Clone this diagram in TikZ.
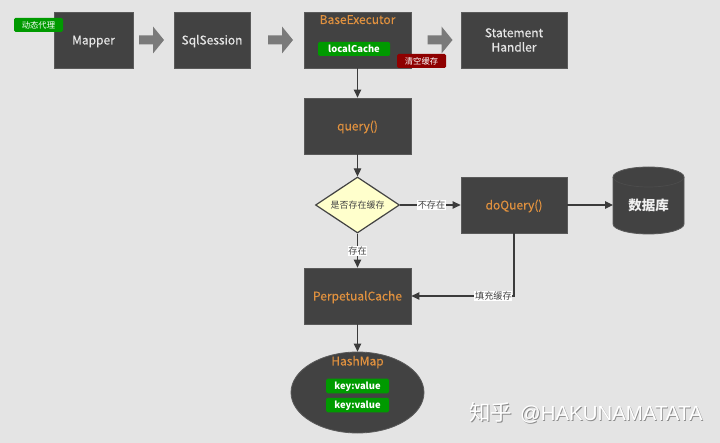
\documentclass[tikz,border=0pt]{standalone}
\usepackage{fontspec}
\setmainfont{Noto Sans CJK SC}
\newfontfamily\medf{Noto Sans CJK SC}[FakeBold=0.35]
\newfontfamily\wmlatin{Liberation Sans}
\usetikzlibrary{shapes.geometric,arrows.meta,calc}
\definecolor{bg}{HTML}{E4E4E4}
\definecolor{dark}{HTML}{424242}
\definecolor{edge}{HTML}{5A5A5A}
\definecolor{orangetxt}{HTML}{E0913F}
\definecolor{greentag}{HTML}{009A00}
\definecolor{redtag}{HTML}{8F0000}
\definecolor{yel}{HTML}{FFFFCC}
\definecolor{lab}{HTML}{444444}
\definecolor{blockgray}{HTML}{7A7A7A}
\newcommand{\wmtext}{{\fontsize{21.5}{24}\selectfont 知乎}\hspace{8pt}{\wmlatin\fontsize{20.4}{24}\selectfont @HAKUNAMATATA}}
\tikzset{
 x=1pt,y=-1pt,
 boxn/.style={draw=edge,line width=.8pt,fill=dark,inner sep=0pt,align=center,text height=9pt,text depth=0pt,font=\medf\fontsize{12}{15}\selectfont,text=white!90!black},
 plainbox/.style={draw=edge,line width=.8pt,fill=dark,inner sep=0pt},
 orng/.style={text=orangetxt},
 tag/.style={fill=greentag,rounded corners=1.5pt,inner sep=0pt,text=white,text height=7pt,text depth=0pt,font=\fontsize{9.4}{11}\selectfont\bfseries},
 smalltag/.style={tag,font=\fontsize{8.3}{9}\selectfont},
 conn/.style={draw=dark!90!black,line width=1.1pt,-{Triangle[length=8pt,width=7.5pt]}},
 lbl/.style={fill=white,inner sep=.6pt,text=lab,font=\fontsize{9.2}{11}\selectfont},
 headline/.style={inner sep=0pt,text height=9pt,text depth=0pt,font=\medf\fontsize{12}{15}\selectfont},
}
\newcommand{\blockarrow}[1]{\fill[blockgray] (#1-12.5,35.5) -- (#1+1.5,35.5) -- (#1+1.5,26.5) -- (#1+12.5,40) -- (#1+1.5,53.5) -- (#1+1.5,44.5) -- (#1-12.5,44.5) -- cycle;}
\begin{document}
\begin{tikzpicture}
\useasboundingbox[fill=bg] (0,0) rectangle (720,443);
\node[boxn,minimum width=79pt,minimum height=56pt] (mapper) at (93.5,40) {Mapper};
\node[boxn,minimum width=76pt,minimum height=56pt] (sql) at (212,40) {SqlSession};
\node[plainbox,minimum width=107pt,minimum height=56pt] (base) at (357.5,40) {};
\node[headline,orng] (basetxt) at (357.5,19.5) {BaseExecutor};
\node[plainbox,minimum width=106pt,minimum height=56pt] (stmt) at (514,40) {};
\node[inner sep=0pt,align=center,font=\medf\fontsize{12}{14.4}\selectfont,text=white!90!black] (stmttxt) at (514,40) {Statement\\Handler};
\node[boxn,orng,minimum width=107pt,minimum height=56pt] (query) at (357.5,126) {query()};
\node[diamond,aspect=1.5,draw=dark,line width=1.2pt,fill=yel,minimum width=84pt,minimum height=56pt,inner sep=0pt,text=lab,font=\fontsize{9}{10}\selectfont] (dia) at (357.5,205) {是否存在缓存};
\node[boxn,orng,minimum width=106pt,minimum height=56pt] (doq) at (514,205) {doQuery()};
\node[boxn,orng,minimum width=107pt,minimum height=56pt] (perp) at (357.5,296) {PerpetualCache};
\node[ellipse,draw=edge,line width=.8pt,fill=dark,minimum width=133pt,minimum height=81pt,inner sep=0pt] (hash) at (357.5,392.5) {};
\node[headline,orng] (hashtxt) at (357.5,361) {HashMap};

% database cylinder
\path[fill=dark,draw=edge,line width=.8pt] (613,177) -- (613,224) arc[start angle=180,end angle=360,x radius=35.5pt,y radius=10pt] -- (684,177) arc[start angle=0,end angle=180,x radius=35.5pt,y radius=10pt] -- cycle;
\draw[black!70,line width=.7pt] (613,177) arc[start angle=180,end angle=360,x radius=35.5pt,y radius=10pt];
\node[inner sep=0pt,text=white!94!black,font=\fontsize{13.5}{16}\selectfont\bfseries] (db) at (648.5,205) {数据库};
\coordinate (dbw) at (613,205);

% tags
\node[smalltag,minimum width=49pt,minimum height=14pt] (dt) at (38.5,25) {动态代理};
\node[tag,minimum width=72pt,minimum height=14pt] (lc) at (354,49) {localCache};
\node[smalltag,fill=redtag,minimum width=49pt,minimum height=14pt] (qk) at (421.5,61) {清空缓存};
\node[tag,minimum width=63pt,minimum height=14.5pt] (kv1) at (357.5,386) {key:value};
\node[tag,minimum width=63pt,minimum height=14.5pt] (kv2) at (357.5,405) {key:value};

% block arrows
\blockarrow{151.5}
\blockarrow{280.5}
\blockarrow{440}

% connectors
\draw[conn] (base) -- (query);
\draw[conn] (query) -- (dia);
\draw[conn] (dia) -- node[lbl,pos=.52] (l1) {不存在} (doq);
\draw[conn] (dia) -- node[lbl,pos=.51] (l2) {存在} (perp);
\draw[conn] (doq) -- (dbw);
\draw[conn] (doq.south) |- node[lbl,pos=.6] (l3) {填充缓存} (perp.east);
\draw[conn] (perp) -- (hash);

% watermark
\node[inner sep=0pt,anchor=west,text=black!45] (wmshadow) at (469.8,414) {\wmtext};
\node[inner sep=0pt,anchor=west,text=white] (wm) at (469,413) {\wmtext};
\end{tikzpicture}
\end{document}
